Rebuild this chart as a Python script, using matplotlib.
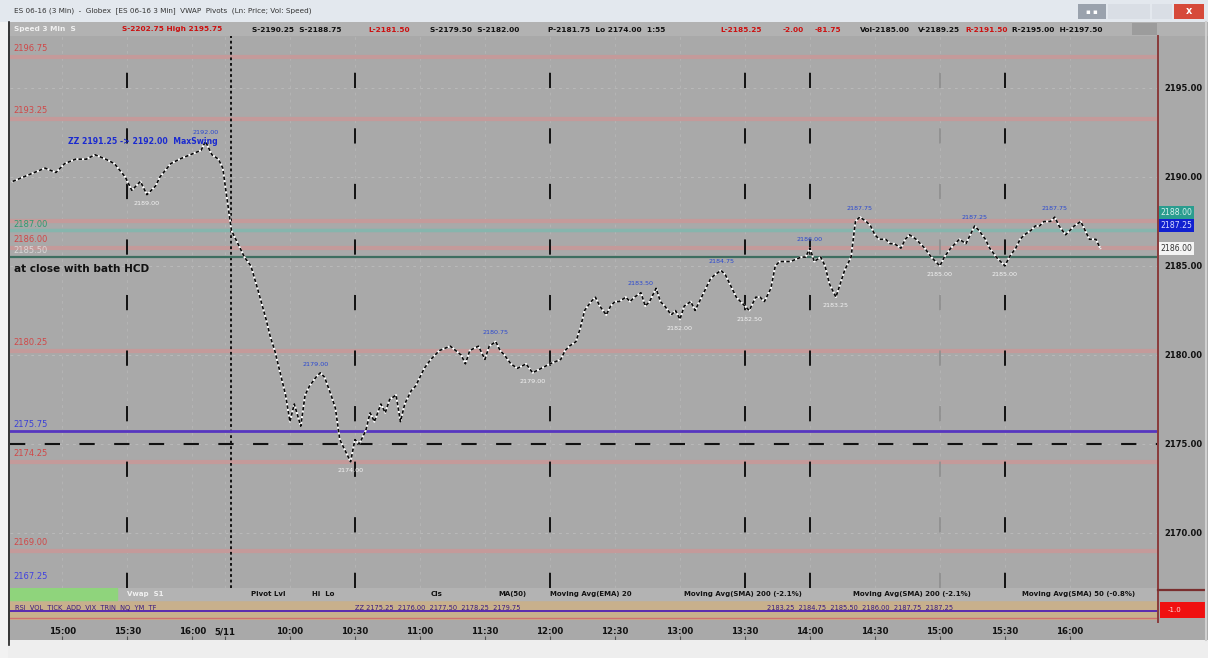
import matplotlib
matplotlib.use('Agg')
import matplotlib.pyplot as plt
from matplotlib.patches import Rectangle
from matplotlib.lines import Line2D
from matplotlib.transforms import blended_transform_factory

plt.rcParams['lines.scale_dashes'] = False
plt.rcParams['font.family'] = ['DejaVu Sans']

# ---------------- data ----------------
# minutes relative to 09:30 on 5/11 (negative = prior session 5/10)
prev_minutes = [-98, -93, -88, -83, -78, -74, -69, -64, -60, -55, -51, -46, -43,
                -39, -36, -32, -30, -25, -21, -16, -11, -9, -6, -3, -1]
prev_price = [2189.75, 2190.00, 2190.25, 2190.50, 2190.25, 2190.75, 2191.00, 2191.00,
              2191.25, 2191.00, 2190.75, 2190.00, 2189.25, 2189.75, 2189.00, 2189.50,
              2190.00, 2190.75, 2191.00, 2191.25, 2191.50, 2192.00, 2191.25, 2191.00,
              2190.50]
day_minutes = [3, 6, 9, 12, 15, 19, 21, 23, 26, 28, 30, 32, 35, 37, 39, 42, 44, 46, 49,
               51, 53, 56, 58, 60, 62, 65, 67, 69, 72, 74, 76, 79, 81, 83, 86, 88, 90,
               92, 95, 97, 99, 104, 109, 111, 113, 117, 120, 122, 125, 127, 129, 132,
               135, 139, 142, 146, 150, 155, 157, 159, 162, 164, 166, 169, 171, 173,
               176, 178, 180, 182, 185, 187, 189, 192, 194, 196, 199, 201, 203, 206,
               208, 210, 212, 215, 217, 219, 222, 224, 226, 229, 231, 233, 236, 238,
               240, 242, 245, 247, 249, 252, 254, 256, 261, 266, 268, 270, 272, 275,
               277, 279, 282, 284, 286, 289, 291, 293, 296, 298, 300, 302, 305, 307,
               309, 312, 314, 316, 319, 321, 323, 326, 328, 330, 332, 335, 337, 339,
               342, 344, 346, 348, 351, 353, 356, 358, 360, 362, 365, 367, 369, 372,
               374, 376, 378, 381, 383, 385, 388, 390, 392, 395, 397, 399, 402, 404]
day_price = [2187.00, 2186.25, 2185.50, 2185.00, 2183.75, 2182.00, 2181.00, 2180.25,
             2178.75, 2177.75, 2176.25, 2177.25, 2176.00, 2177.75, 2178.25, 2178.75,
             2179.00, 2178.75, 2177.75, 2177.00, 2175.25, 2174.50, 2174.00, 2175.25,
             2175.00, 2175.75, 2176.75, 2176.25, 2177.25, 2176.75, 2177.50, 2177.75,
             2176.25, 2177.25, 2178.00, 2178.25, 2178.75, 2179.25, 2179.75, 2180.00,
             2180.25, 2180.50, 2180.00, 2179.50, 2180.25, 2180.50, 2179.75, 2180.50,
             2180.75, 2180.25, 2180.00, 2179.50, 2179.25, 2179.50, 2179.00, 2179.25,
             2179.50, 2179.75, 2180.25, 2180.50, 2180.75, 2181.50, 2182.50, 2183.00,
             2183.25, 2182.75, 2182.25, 2182.75, 2183.00, 2183.00, 2183.25, 2183.00,
             2183.25, 2183.50, 2182.75, 2183.00, 2183.75, 2183.00, 2182.75, 2182.25,
             2182.50, 2182.00, 2182.75, 2183.00, 2182.50, 2183.00, 2183.75, 2184.25,
             2184.50, 2184.75, 2184.50, 2184.00, 2183.25, 2183.00, 2182.75, 2182.50,
             2183.25, 2183.25, 2183.00, 2183.75, 2185.00, 2185.25, 2185.25, 2185.50,
             2185.50, 2186.00, 2185.25, 2185.50, 2185.00, 2184.00, 2183.25, 2184.00,
             2184.75, 2185.50, 2187.50, 2187.75, 2187.50, 2187.25, 2186.75, 2186.50,
             2186.50, 2186.25, 2186.25, 2186.00, 2186.50, 2186.75, 2186.50, 2186.25,
             2186.00, 2185.50, 2185.25, 2185.00, 2185.50, 2186.00, 2186.25, 2186.50,
             2186.25, 2186.75, 2187.25, 2187.00, 2186.50, 2186.00, 2185.50, 2185.25,
             2185.00, 2185.50, 2186.00, 2186.50, 2186.75, 2187.00, 2187.25, 2187.25,
             2187.50, 2187.50, 2187.75, 2187.25, 2186.75, 2187.00, 2187.25, 2187.50,
             2187.00, 2186.50, 2186.50, 2186.00]

# horizontal levels
pink_levels = [2196.75, 2193.25, 2187.50, 2186.00, 2180.25, 2174.00, 2169.00]
pink_labels = ['2196.75', '2193.25', '', '2186.00', '2180.25', '2174.25', '2169.00']
teal_level = 2187.00
green_level = 2185.50
purple_level = 2175.75
dashed_level = 2175.00
blue_low_level = 2167.25

# time axis
tick_minutes = [-75, -45, -15, 0, 30, 60, 90, 120, 150, 180, 210, 240, 270, 300,
                330, 360, 390]
tick_labels = ['15:00', '15:30', '16:00', '5/11', '10:00', '10:30', '11:00', '11:30',
               '12:00', '12:30', '13:00', '13:30', '14:00', '14:30', '15:00', '15:30',
               '16:00']
dashed_vlines = [-45, 60, 150, 240, 270, 360]
faint_vlines = [330]
session_break = 3

price_ticks = [2170, 2175, 2180, 2185, 2190, 2195]

# swing annotations
swing_hi_t = [-9, 42, 125, 192, 229, 270, 293, 346, 383]
swing_hi_p = [2192.00, 2179.00, 2180.75, 2183.50, 2184.75, 2186.00, 2187.75, 2187.25, 2187.75]
swing_lo_t = [-36, 58, 142, 210, 242, 282, 330, 360]
swing_lo_p = [2189.00, 2174.00, 2179.00, 2182.00, 2182.50, 2183.25, 2185.00, 2185.00]

# right-axis markers
marker_vals = [2188.00, 2187.25, 2186.00]
marker_cols = ['#2a9d8f', '#1020d0', '#f4f4f4']
marker_txt = ['#d8f0ee', '#d8dcff', '#333333']

# ---------------- figure ----------------
W, H = 1208, 658
fig = plt.figure(figsize=(W / 100, H / 100), dpi=100)
BG = '#a9a9a9'
fig.patch.set_facecolor(BG)


def fx(x):
    return x / W


def fy(y):
    return 1 - y / H


def rect(x0, y0, x1, y1, color, z=0, ec='none', lw=0):
    fig.patches.append(Rectangle((fx(x0), fy(y1)), (x1 - x0) / W, (y1 - y0) / H,
                                 transform=fig.transFigure, facecolor=color,
                                 edgecolor=ec, linewidth=lw, zorder=z))


def fline(x0, y0, x1, y1, color, lw=1.0, z=5):
    fig.lines.append(Line2D([fx(x0), fx(x1)], [fy(y0), fy(y1)], transform=fig.transFigure,
                            color=color, lw=lw, zorder=z))


def ftext(x, y, s, **kw):
    fig.text(fx(x), fy(y), s, **kw)


# window chrome
rect(0, 0, W, 22, '#e3e8ee', z=1)
rect(0, 22, W, 36, '#b2b2b2', z=1)
rect(0, 640, W, H, '#eeeeee', z=1)
rect(0, 22, 8, 658, '#f2f2f2', z=1)
fline(9, 22, 9, 645, '#202020', lw=1.2)
rect(1078, 4, 1106, 19, '#9aa2ad', z=2)
rect(1108, 4, 1150, 19, '#d9dee5', z=2)
rect(1152, 4, 1172, 19, '#d9dee5', z=2)
rect(1174, 4, 1204, 19, '#d64a3a', z=2)
ftext(1092, 11.5, '▪ ▪', fontsize=5, color='white', ha='center', va='center', zorder=3)
ftext(1189, 11.5, 'x', fontsize=7, color='white', ha='center', va='center',
      fontweight='bold', zorder=3)
ftext(14, 11, 'ES 06-16 (3 Min)  -  Globex  [ES 06-16 3 Min]  VWAP  Pivots  (Ln: Price; Vol: Speed)',
      fontsize=5.2, color='#333333', ha='left', va='center', zorder=3)

# toolbar items (black and red)
toolbar = [(14, 'Speed 3 Min  S', '#f0f0f0'), (122, 'S-2202.75 High 2195.75', '#cc1010'),
           (252, 'S-2190.25  S-2188.75', '#111111'), (368, 'L-2181.50', '#cc1010'),
           (430, 'S-2179.50  S-2182.00', '#111111'), (548, 'P-2181.75  Lo 2174.00  1:55', '#111111'),
           (720, 'L-2185.25', '#cc1010'), (783, '-2.00', '#cc1010'),
           (815, '-81.75', '#cc1010'), (860, 'Vol-2185.00', '#111111'),
           (918, 'V-2189.25', '#111111'), (965, 'R-2191.50', '#cc1010'),
           (1012, 'R-2195.00  H-2197.50', '#111111')]
for x, s, c in toolbar:
    ftext(x, 29.5, s, fontsize=5.3, color=c, ha='left', va='center', zorder=3,
          fontweight='bold')
rect(1132, 23, 1157, 35, '#9c9c9c', z=2)

# ---------------- main price pane ----------------
x_left, x_right = 10, 1157
y_top, y_bot = 36, 588
ax = fig.add_axes([fx(x_left), fy(y_bot), (x_right - x_left) / W, (y_bot - y_top) / H])
ax.set_facecolor(BG)
ax.set_xlim(-99.2, 430.2)
ax.set_ylim(2166.91, 2197.92)
for s in ax.spines.values():
    s.set_visible(False)
ax.set_xticks([])
ax.yaxis.tick_right()
ax.set_yticks(price_ticks)
ax.set_yticklabels(['%.2f' % v for v in price_ticks])
ax.tick_params(axis='y', length=0, pad=5, labelsize=6.0, labelcolor='#111111')
for lab in ax.get_yticklabels():
    lab.set_fontweight('bold')

# faint grid
for v in price_ticks:
    ax.axhline(v, color='#b9b9b9', lw=0.8, dashes=(2, 3), zorder=1)
for t in tick_minutes:
    ax.axvline(t, color='#b4b4b4', lw=0.8, dashes=(2, 3), zorder=1)

# levels
for lv, lab in zip(pink_levels, pink_labels):
    ax.axhline(lv, color='#c49a9a', lw=3.0, zorder=2)
    if lab:
        ax.text(-97.5, lv + 0.22, lab, color='#d04848', fontsize=6, ha='left', va='bottom',
                zorder=6)
ax.axhline(teal_level, color='#86b5ad', lw=2.5, zorder=2)
ax.text(-97.5, teal_level + 0.05, '%.2f' % teal_level, color='#2f9a70', fontsize=6,
        ha='left', va='bottom', zorder=6)
ax.text(-97.5, green_level + 0.12, '%.2f' % green_level, color='#d8d8d8', fontsize=6,
        ha='left', va='bottom', zorder=6)
ax.axhline(green_level, color='#3e6e60', lw=1.6, zorder=4)
ax.text(-97.5, 2184.85, 'at close with bath HCD', color='#111111', fontsize=7.6,
        fontweight='bold', ha='left', va='center', zorder=6)
ax.axhline(purple_level, color='#5636c0', lw=2.0, zorder=4)
ax.text(-97.5, purple_level + 0.12, '%.2f' % purple_level, color='#3a40d8', fontsize=6,
        ha='left', va='bottom', zorder=6)
ax.axhline(dashed_level, color='#111111', lw=1.5, dashes=(11, 14), zorder=4)
ax.text(-97.5, blue_low_level + 0.05, '%.2f' % blue_low_level, color='#4040e0', fontsize=6,
        ha='left', va='bottom', zorder=6)

# vertical session / time lines
for t in dashed_vlines:
    ax.axvline(t, color='#111111', lw=1.4, dashes=(11, 29), zorder=3)
for t in faint_vlines:
    ax.axvline(t, color='#8e8e8e', lw=1.2, dashes=(11, 29), zorder=3)
ax.axvline(session_break, color='#111111', lw=1.4, dashes=(2, 2), zorder=3)

# price line (black with white gaps)
all_t = prev_minutes + day_minutes
all_p = prev_price + day_price
ax.plot(all_t, all_p, color='white', lw=1.4, zorder=7)
ax.plot(all_t, all_p, color='#0a0a0a', lw=1.25, dashes=(2.5, 1.6), zorder=8)

# swing annotations
for t, p in zip(swing_hi_t, swing_hi_p):
    ax.text(t, p + 0.35, '%.2f' % p, color='#2a48d0', fontsize=4.6, ha='center',
            va='bottom', zorder=9)
for t, p in zip(swing_lo_t, swing_lo_p):
    ax.text(t, p - 0.35, '%.2f' % p, color='#f2f2f2', fontsize=4.6, ha='center',
            va='top', zorder=9)
ax.text(-38, 2191.75, 'ZZ 2191.25 -> 2192.00  MaxSwing', color='#1a2ad0', fontsize=5.6,
        fontweight='bold', ha='center', va='bottom', zorder=9)

# right axis markers
trans_r = blended_transform_factory(fig.transFigure, ax.transData)
for v, c, tc in zip(marker_vals, marker_cols, marker_txt):
    ax.text(fx(1160), v, '%.2f' % v, transform=trans_r, fontsize=5.6, color=tc,
            ha='left', va='center', zorder=10, clip_on=False,
            bbox=dict(boxstyle='square,pad=0.25', fc=c, ec='none'))

# right side frame lines
fline(1157.5, 36, 1157.5, 622, '#8a3a3a', lw=1.4, z=6)
fline(1158, 590, 1205, 590, '#7a2e2e', lw=1.6, z=6)
rect(1160, 602, 1205, 618, '#f01010', z=3)
ftext(1168, 610, '-1.0', fontsize=5, color='#ffdddd', ha='left', va='center', zorder=4)
fline(1205.5, 22, 1205.5, 640, '#d0d0d0', lw=1.5, z=6)

# ---------------- indicator strip ----------------
ax2 = fig.add_axes([fx(x_left), fy(620), (x_right - x_left) / W, (620 - 588) / H])
ax2.set_xlim(ax.get_xlim())
ax2.set_ylim(0, 1)
ax2.set_facecolor('#c8b08c')
for s in ax2.spines.values():
    s.set_visible(False)
ax2.set_xticks([])
ax2.set_yticks([])
ax2.axhspan(0.62, 1.0, color='#b3b3b3', zorder=1)
ax2.axvspan(-99.2, -50, ymin=0.62, ymax=1.0, color='#8fd47c', zorder=2)
ax2.axhline(0.28, color='#5a2ab0', lw=1.4, zorder=3)
ax2.axhline(0.05, color='#d07070', lw=1.0, zorder=3)
legend_items = [(-45, 'Vwap  S1', '#f0f0f0'), (12, 'Pivot Lvl', '#111111'), (40, 'Hi  Lo', '#111111'),
                (95, 'Cls', '#111111'), (126, 'MA(50)', '#111111'),
                (150, 'Moving Avg(EMA) 20', '#111111'), (212, 'Moving Avg(SMA) 200 (-2.1%)', '#111111'),
                (290, 'Moving Avg(SMA) 200 (-2.1%)', '#111111'),
                (368, 'Moving Avg(SMA) 50 (-0.8%)', '#111111')]
for t, s, c in legend_items:
    ax2.text(t, 0.8, s, fontsize=5.0, color=c, ha='left', va='center', zorder=5,
             fontweight='bold')
ax2.text(-97, 0.36, 'RSI  VOL  TICK  ADD  VIX  TRIN  NQ  YM  TF', fontsize=4.8,
         color='#3a1a80', ha='left', va='center', zorder=5)
ax2.text(60, 0.36, 'ZZ 2175.25  2176.00  2177.50  2178.25  2179.75', fontsize=4.8,
         color='#3a1a80', ha='left', va='center', zorder=5)
ax2.text(250, 0.36, '2183.25  2184.75  2185.50  2186.00  2187.75  2187.25', fontsize=4.8,
         color='#3a1a80', ha='left', va='center', zorder=5)

# ---------------- time axis ----------------
ax3 = fig.add_axes([fx(x_left), fy(640), (x_right - x_left) / W, (640 - 620) / H])
ax3.set_xlim(ax.get_xlim())
ax3.set_facecolor(BG)
for s in ax3.spines.values():
    s.set_visible(False)
ax3.set_yticks([])
ax3.set_xticks(tick_minutes)
ax3.set_xticklabels(tick_labels)
ax3.tick_params(axis='x', direction='in', length=3, color='#555555', pad=-9,
                labelsize=6.2, labelcolor='#111111')
for lab in ax3.get_xticklabels():
    lab.set_fontweight('bold')
rect(1158, 620, 1205, 640, BG, z=1)

fig.savefig('out.png', dpi=100, facecolor=fig.get_facecolor())
